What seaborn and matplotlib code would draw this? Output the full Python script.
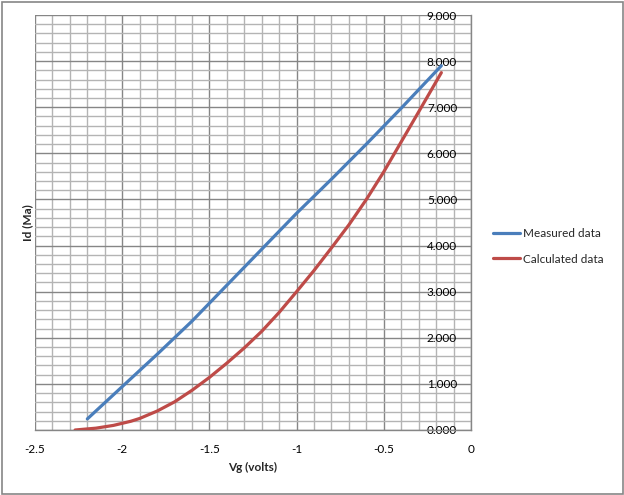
import matplotlib
matplotlib.use("Agg")
import matplotlib.pyplot as plt
from matplotlib.ticker import MultipleLocator, FixedLocator, FuncFormatter
from matplotlib.patches import Rectangle
import numpy as np
import pandas as pd
import seaborn as sns

# ---- data ----
measured_vg = [-2.2, -2.0, -1.8, -1.6, -1.4, -1.2, -1.0, -0.8, -0.6, -0.4, -0.17]
measured_id = [0.24, 0.94, 1.64, 2.36, 3.14, 3.92, 4.70, 5.44, 6.20, 6.98, 7.90]

calc_vg = [-2.27, -2.15, -2.05, -1.95, -1.9, -1.8, -1.7, -1.6, -1.5, -1.4, -1.3, -1.2,
           -1.1, -1.0, -0.9, -0.8, -0.7, -0.6, -0.5, -0.4, -0.3, -0.17]
calc_id = [0.0, 0.04, 0.10, 0.19, 0.25, 0.41, 0.61, 0.86, 1.14, 1.45, 1.78, 2.14,
           2.55, 3.00, 3.46, 3.95, 4.45, 5.00, 5.60, 6.25, 6.90, 7.75]

series_names = ["Measured data", "Calculated data"]
series_colors = ["#4A7EBB", "#BE4B48"]
x_label = "Vg (volts)"
y_label = "Id (Ma)"
x_ticks = [-2.5, -2.0, -1.5, -1.0, -0.5, 0.0]
x_ticklabels = ["-2.5", "-2", "-1.5", "-1", "-0.5", "0"]
y_ticks = list(range(0, 10))

df = pd.concat([
    pd.DataFrame({"Vg": measured_vg, "Id": measured_id, "series": series_names[0]}),
    pd.DataFrame({"Vg": calc_vg, "Id": calc_id, "series": series_names[1]}),
], ignore_index=True)

sns.set_style("white")
plt.rcParams["font.family"] = ["Lato", "DejaVu Sans"]

W, H = 624, 495
fig = plt.figure(figsize=(W / 100, H / 100), dpi=100)
ax = fig.add_axes([35 / W, 1 - 430 / H, (471 - 35) / W, (430 - 15) / H])

major_c = "#868686"
minor_c = "#B4B4B4"

sns.lineplot(data=df, x="Vg", y="Id", hue="series", hue_order=series_names,
             palette=series_colors, sort=False, estimator=None, linewidth=2.3,
             ax=ax, legend=False, zorder=5)
for ln in ax.lines:
    ln.set_solid_joinstyle("round")

ax.set_xlim(-2.5, 0)
ax.set_ylim(0, 9)
ax.xaxis.set_major_locator(FixedLocator(x_ticks))
ax.set_xticklabels(x_ticklabels)
ax.xaxis.set_minor_locator(MultipleLocator(0.1))
ax.yaxis.set_major_locator(FixedLocator(y_ticks))
ax.yaxis.set_minor_locator(MultipleLocator(0.2))
ax.yaxis.set_major_formatter(FuncFormatter(lambda v, p: f"{v:.3f}"))

ax.grid(which="major", color=major_c, linewidth=1.0, zorder=1)
ax.grid(which="minor", color=minor_c, linewidth=1.0, zorder=0)
ax.set_axisbelow(True)

for s in ["left", "top"]:
    ax.spines[s].set_visible(False)
for s in ["bottom", "right"]:
    ax.spines[s].set_color(major_c)
    ax.spines[s].set_linewidth(1.0)
    ax.spines[s].set_zorder(2)

# y axis crosses at x = 0 (right edge), labels sit to the left of it
ax.yaxis.set_ticks_position("right")
ax.tick_params(axis="y", which="both", length=0, pad=-10, labelsize=8.5,
               labelcolor="black")
for lab in ax.get_yticklabels():
    lab.set_horizontalalignment("right")
ax.tick_params(axis="x", which="major", length=4, width=1, color=major_c,
               direction="out", pad=6, labelsize=8.5, labelcolor="black")
ax.tick_params(axis="x", which="minor", length=0)

ax.set_xlabel(x_label, fontsize=8.5, fontweight="bold", labelpad=5)
ax.set_ylabel(y_label, fontsize=8.5, fontweight="bold", labelpad=1)
ax.yaxis.set_label_position("left")

handles = [plt.Line2D([], [], color=c, linewidth=2.3) for c in series_colors]
fig.legend(handles, series_names, loc="center left",
           bbox_to_anchor=(493 / W, 1 - 246.5 / H), frameon=False,
           fontsize=8.5, handlelength=2.3, handletextpad=0.25,
           borderpad=0, borderaxespad=0, labelspacing=1.2)

fig.patches.append(Rectangle((1.5 / W, 1.5 / H), (W - 3) / W, (H - 3) / H,
                             transform=fig.transFigure, fill=False,
                             edgecolor="#868686", linewidth=1.2))

fig.savefig("out.png", dpi=100)
